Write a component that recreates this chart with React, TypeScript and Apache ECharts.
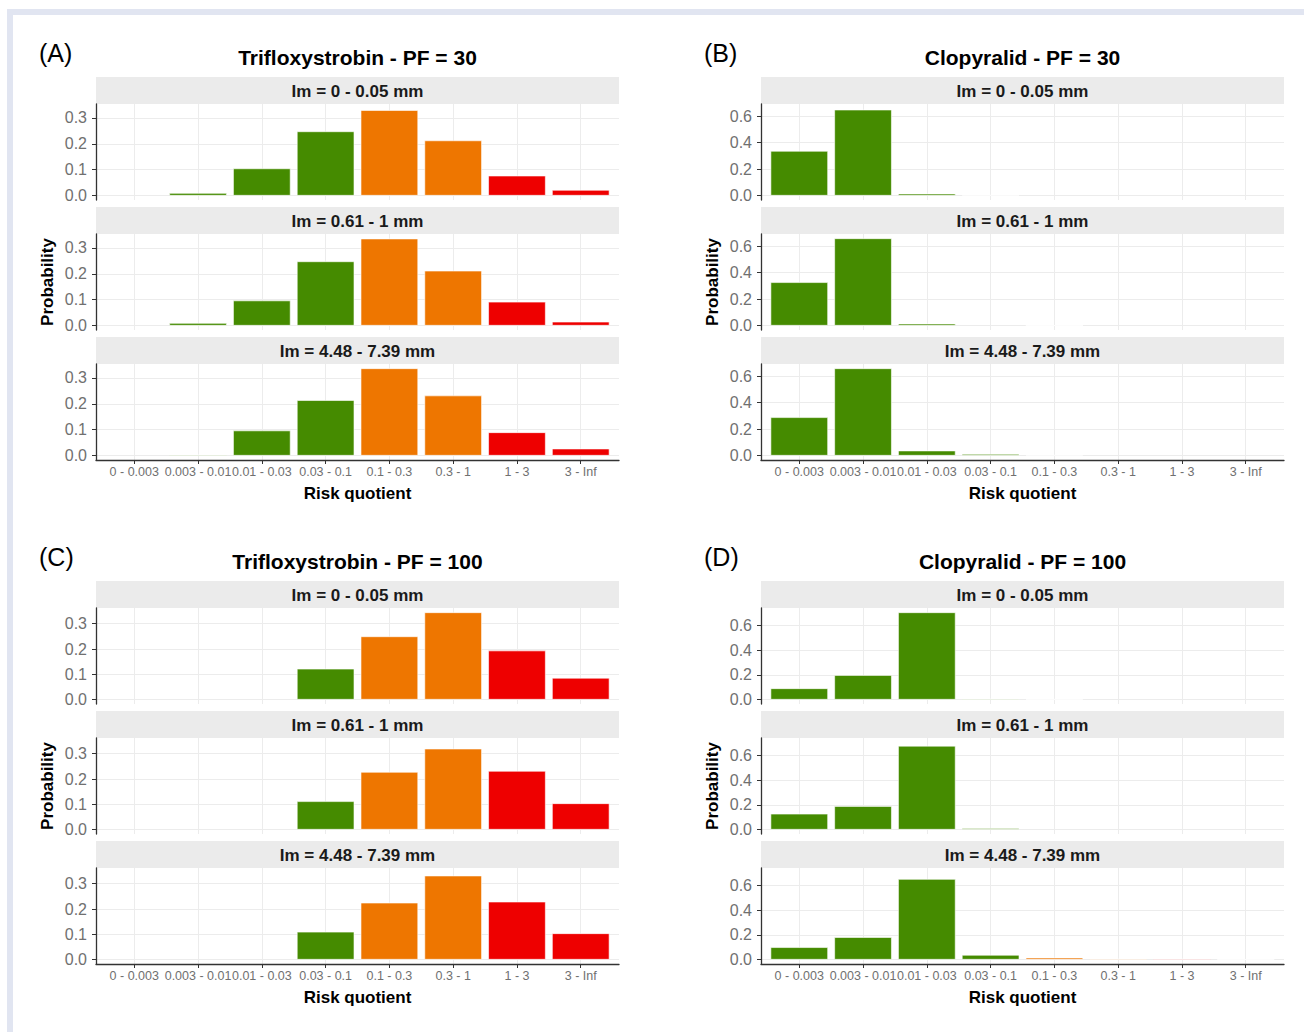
import React, { useEffect, useRef } from "react";
import * as echarts from "echarts";

// Risk-quotient classes shown along the x axis
const RQ_CLASSES = [
  "0 - 0.003",
  "0.003 - 0.01",
  "0.01 - 0.03",
  "0.03 - 0.1",
  "0.1 - 0.3",
  "0.3 - 1",
  "1 - 3",
  "3 - Inf",
];
// low / medium / high risk colouring of the classes
const CLASS_COLORS = [
  "#458b00", "#458b00", "#458b00", "#458b00",
  "#ee7600", "#ee7600",
  "#ee0000", "#ee0000",
];

const IM_STRIPS = ["Im = 0 - 0.05 mm", "Im = 0.61 - 1 mm", "Im = 4.48 - 7.39 mm"];

// Probability of each RQ class, one row per Im class
const TRIF_PF30 = [
  [0, 0.01, 0.105, 0.248, 0.33, 0.213, 0.077, 0.022],
  [0, 0.01, 0.097, 0.248, 0.336, 0.212, 0.092, 0.015],
  [0, 0.004, 0.097, 0.214, 0.337, 0.232, 0.09, 0.027],
];
const CLOP_PF30 = [
  [0.338, 0.65, 0.015, 0.005, 0, 0, 0, 0],
  [0.328, 0.66, 0.015, 0, 0.002, 0, 0, 0],
  [0.29, 0.66, 0.038, 0.012, 0.005, 0, 0, 0],
];
const TRIF_PF100 = [
  [0, 0, 0, 0.122, 0.25, 0.345, 0.194, 0.086],
  [0, 0, 0, 0.112, 0.228, 0.32, 0.232, 0.104],
  [0, 0, 0, 0.11, 0.225, 0.332, 0.229, 0.104],
];
const CLOP_PF100 = [
  [0.091, 0.198, 0.704, 0.007, 0.004, 0, 0, 0],
  [0.128, 0.19, 0.676, 0.012, 0, 0, 0, 0],
  [0.1, 0.181, 0.65, 0.038, 0.016, 0.007, 0.007, 0.003],
];

const Y_TICKS_TRIF = [0, 0.1, 0.2, 0.3];
const Y_TICKS_CLOP = [0, 0.2, 0.4, 0.6];

const PANELS = [
  { tag: "(A)", title: "Trifloxystrobin - PF = 30", data: TRIF_PF30, ticks: Y_TICKS_TRIF },
  { tag: "(B)", title: "Clopyralid - PF = 30", data: CLOP_PF30, ticks: Y_TICKS_CLOP },
  { tag: "(C)", title: "Trifloxystrobin - PF = 100", data: TRIF_PF100, ticks: Y_TICKS_TRIF },
  { tag: "(D)", title: "Clopyralid - PF = 100", data: CLOP_PF100, ticks: Y_TICKS_CLOP },
];

// layout
const FONT = "'Liberation Sans', Arial, Helvetica, sans-serif";
const PANEL_ORIGINS = [
  { left: 96, top: 77 },
  { left: 761, top: 77 },
  { left: 96, top: 581 },
  { left: 761, top: 581 },
];
const PLOT_W = 523;
const STRIP_H = 27;
const PLOT_H = 96;
const FACET_STEP = 130;

function buildOption() {
  const grids: any[] = [];
  const xAxes: any[] = [];
  const yAxes: any[] = [];
  const series: any[] = [];
  const graphics: any[] = [];

  // light frame along the top and left edges
  graphics.push(
    { type: "rect", shape: { x: 7, y: 9, width: 1297, height: 6 }, style: { fill: "#e1e5f1" }, silent: true },
    { type: "rect", shape: { x: 7, y: 9, width: 6, height: 1023 }, style: { fill: "#e1e5f1" }, silent: true }
  );

  const classIdx = RQ_CLASSES.map((_, i) => i);

  PANELS.forEach((panel, p) => {
    const { left, top } = PANEL_ORIGINS[p];
    const cx = left + PLOT_W / 2;
    const peak = Math.max(...panel.data.flat());
    const yMin = -0.05 * peak;
    const yMax = 1.05 * peak;

    graphics.push({
      type: "text",
      x: left - 57,
      y: top - 24,
      style: { text: panel.tag, fontSize: 25, fontFamily: FONT, fill: "#000", textAlign: "left", textVerticalAlign: "middle" },
      silent: true,
    });
    graphics.push({
      type: "text",
      x: cx,
      y: top - 20,
      style: { text: panel.title, fontSize: 21, fontWeight: "bold", fontFamily: FONT, fill: "#000", textAlign: "center", textVerticalAlign: "middle" },
      silent: true,
    });
    graphics.push({
      type: "text",
      x: left - 49,
      y: top + FACET_STEP + STRIP_H + PLOT_H / 2,
      rotation: Math.PI / 2,
      style: { text: "Probability", fontSize: 17, fontWeight: "bold", fontFamily: FONT, fill: "#000", textAlign: "center", textVerticalAlign: "middle" },
      silent: true,
    });
    graphics.push({
      type: "text",
      x: cx,
      y: top + 2 * FACET_STEP + STRIP_H + PLOT_H + 33,
      style: { text: "Risk quotient", fontSize: 17, fontWeight: "bold", fontFamily: FONT, fill: "#000", textAlign: "center", textVerticalAlign: "middle" },
      silent: true,
    });

    panel.data.forEach((values, f) => {
      const g = grids.length;
      const stripTop = top + f * FACET_STEP;
      const isBottom = f === panel.data.length - 1;

      graphics.push({
        type: "rect",
        shape: { x: left, y: stripTop, width: PLOT_W, height: STRIP_H },
        style: { fill: "#ebebeb" },
        silent: true,
      });
      graphics.push({
        type: "text",
        x: cx,
        y: stripTop + STRIP_H / 2 + 0.5,
        style: { text: IM_STRIPS[f], fontSize: 17, fontWeight: "bold", fontFamily: FONT, fill: "#1a1a1a", textAlign: "center", textVerticalAlign: "middle" },
        silent: true,
      });

      grids.push({
        left,
        top: stripTop + STRIP_H,
        width: PLOT_W,
        height: PLOT_H,
        containLabel: false,
        outerBoundsMode: "none",
      });

      xAxes.push({
        gridIndex: g,
        type: "value",
        min: -0.6,
        max: RQ_CLASSES.length - 0.4,
        axisLine: { show: isBottom, onZero: false, lineStyle: { color: "#333", width: 1.3 } },
        axisTick: { show: isBottom, customValues: classIdx, length: 4, lineStyle: { color: "#333" } },
        axisLabel: {
          show: isBottom,
          customValues: classIdx,
          formatter: (v: number) => RQ_CLASSES[Math.round(v)] ?? "",
          margin: 5,
          fontSize: 12.5,
          fontFamily: FONT,
          color: "#707070",
        },
        splitLine: { show: true, lineStyle: { color: "#ececec", width: 1 } },
      });

      yAxes.push({
        gridIndex: g,
        type: "value",
        min: yMin,
        max: yMax,
        axisLine: { show: true, onZero: false, lineStyle: { color: "#333", width: 1.3 } },
        axisTick: { show: true, customValues: panel.ticks, length: 4, lineStyle: { color: "#333" } },
        axisLabel: {
          customValues: panel.ticks,
          formatter: (v: number) => v.toFixed(1),
          margin: 9,
          fontSize: 16,
          fontFamily: FONT,
          color: "#707070",
        },
        splitLine: { show: true, lineStyle: { color: "#ececec", width: 1 } },
      });

      // empty classes get no mark at all
      series.push({
        type: "bar",
        xAxisIndex: g,
        yAxisIndex: g,
        barWidth: "90%",
        silent: true,
        data: values.map((v, i) => [i, v]).filter((d) => d[1] > 0),
        itemStyle: {
          color: (prm: any) => CLASS_COLORS[prm.data[0]],
          borderColor: "#ffffff",
          borderWidth: 0.6,
        },
      });
    });
  });

  return {
    animation: false,
    backgroundColor: "#ffffff",
    grid: grids,
    xAxis: xAxes,
    yAxis: yAxes,
    series,
    graphic: { elements: graphics },
  };
}

export default function App() {
  const ref = useRef<HTMLDivElement>(null);

  useEffect(() => {
    if (!ref.current) return;
    const chart = echarts.init(ref.current, undefined, { renderer: "svg" });
    chart.setOption(buildOption());
    return () => chart.dispose();
  }, []);

  return (
    <div
      ref={ref}
      style={{ position: "absolute", left: 0, top: 0, width: 1304, height: 1032 }}
    />
  );
}
